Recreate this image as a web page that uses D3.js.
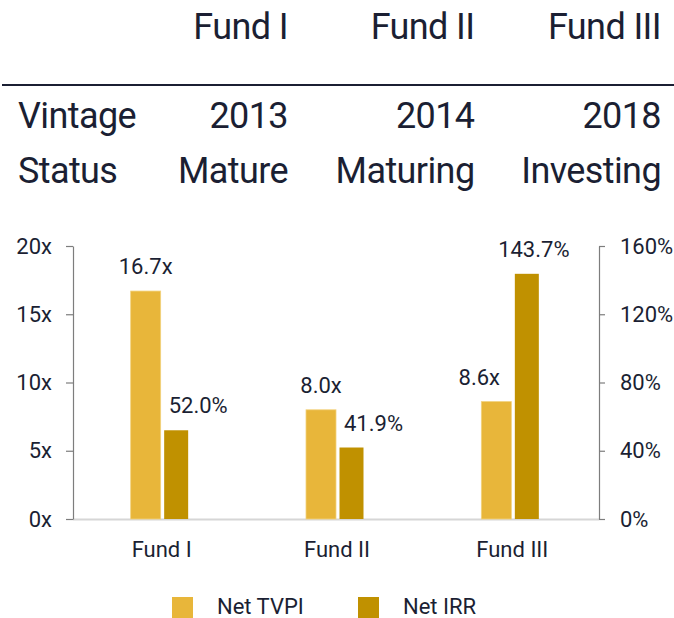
<!DOCTYPE html>
<html>
<head>
<meta charset="utf-8">
<script src="https://cdn.jsdelivr.net/npm/d3@7"></script>
<style>
  html, body { margin: 0; padding: 0; background: #fff; }
  svg { display: block; }
  text { font-family: Roboto, "Liberation Sans", Arial, sans-serif; fill: #1b1f33; }
</style>
</head>
<body>
<svg id="chart" width="674" height="618"></svg>
<script>
// ---- data ----
const funds = ["Fund I", "Fund II", "Fund III"];
const vintages = ["2013", "2014", "2018"];
const statuses = ["Mature", "Maturing", "Investing"];
const rowLabels = ["Vintage", "Status"];
const netTVPI = [16.7, 8.0, 8.6];
const netIRR = [52.0, 41.9, 143.7];
const leftTicks = [0, 5, 10, 15, 20];
const rightTicks = [0, 40, 80, 120, 160];
const seriesNames = ["Net TVPI", "Net IRR"];
const colors = ["#E8B63A", "#C09100"];

const svg = d3.select("#chart");
const ink = "#1b1f33";

// ---- header table ----
const colRight = d3.scalePoint().domain(funds).range([288, 661]);
const header = svg.append("g").style("letter-spacing", "-0.6px");
header.selectAll("text.fund").data(funds).join("text")
  .attr("x", d => colRight(d)).attr("y", 39)
  .attr("text-anchor", "end").style("font-size", "36px").text(d => d);
header.append("line").attr("x1", 2).attr("x2", 674).attr("y1", 85).attr("y2", 85)
  .attr("stroke", ink).attr("stroke-width", 2);
const rows = [vintages, statuses];
const rowY = [128, 183];
rows.forEach((vals, i) => {
  header.append("text").attr("x", 18).attr("y", rowY[i]).style("font-size", "36px").text(rowLabels[i]);
  header.selectAll(null).data(vals).join("text")
    .attr("x", (d, j) => colRight(funds[j])).attr("y", rowY[i])
    .attr("text-anchor", "end").style("font-size", "36px").text(d => d);
});

// ---- chart ----
const x0 = 73, x1 = 599, yTop = 246, yBot = 519;
const x = d3.scaleBand().domain(funds).range([x0, x1]).padding(0);
const yL = d3.scaleLinear().domain([0, 20]).range([yBot, yTop]);
const yR = d3.scaleLinear().domain([0, 160]).range([yBot, yTop]);

// baseline
svg.append("line").attr("x1", x0).attr("x2", x1).attr("y1", yBot + 0.5).attr("y2", yBot + 0.5)
  .attr("stroke", "#d6d6d6").attr("stroke-width", 2);

const axL = svg.append("g").attr("transform", `translate(${x0},0)`)
  .call(d3.axisLeft(yL).tickValues(leftTicks).tickFormat(d => d + "x").tickSize(7).tickSizeOuter(0).tickPadding(14));
const axR = svg.append("g").attr("transform", `translate(${x1},0)`)
  .call(d3.axisRight(yR).tickValues(rightTicks).tickFormat(d => d + "%").tickSize(6).tickSizeOuter(0).tickPadding(15));
[axL, axR].forEach(a => {
  a.select(".domain").attr("stroke", "#7d7d7d").attr("stroke-width", 1.2);
  a.selectAll(".tick line").attr("stroke", "#7d7d7d").attr("stroke-width", 1.2);
  a.selectAll(".tick text").style("font-size", "22px").attr("fill", ink)
    .style("font-family", "Roboto, 'Liberation Sans', Arial, sans-serif");
});

const tvpiW = 30, irrW = 24, gap = 3.5;
const cx = d => x(d) + x.bandwidth() / 2;
const last = funds[funds.length - 1];

// TVPI bars
svg.selectAll("rect.tvpi").data(funds).join("rect")
  .attr("x", d => cx(d) - tvpiW).attr("width", tvpiW)
  .attr("y", (d, i) => yL(netTVPI[i])).attr("height", (d, i) => yBot - yL(netTVPI[i]))
  .attr("fill", colors[0]).attr("stroke", "#F2D27E").attr("stroke-width", 0.8);
// IRR bars
svg.selectAll("rect.irr").data(funds).join("rect")
  .attr("x", d => cx(d) + gap).attr("width", irrW)
  .attr("y", (d, i) => yR(netIRR[i])).attr("height", (d, i) => yBot - yR(netIRR[i]))
  .attr("fill", colors[1]);

// value labels
svg.selectAll("text.lt").data(funds).join("text")
  .attr("x", d => cx(d) - tvpiW / 2 + (d === last ? -17 : 0))
  .attr("y", (d, i) => yL(netTVPI[i]) - 17)
  .attr("text-anchor", "middle").style("font-size", "22px")
  .text((d, i) => netTVPI[i].toFixed(1) + "x");
svg.selectAll("text.li").data(funds).join("text")
  .attr("x", d => cx(d) + gap + irrW / 2 + (d === last ? 7 : 22))
  .attr("y", (d, i) => yR(netIRR[i]) - 17)
  .attr("text-anchor", "middle").style("font-size", "22px")
  .text((d, i) => netIRR[i].toFixed(1) + "%");

// category labels
svg.selectAll("text.cat").data(funds).join("text")
  .attr("x", d => cx(d) + 1).attr("y", 557)
  .attr("text-anchor", "middle").style("font-size", "22px").text(d => d);

// legend
const legX = [172, 358];
seriesNames.forEach((s, i) => {
  svg.append("rect").attr("x", legX[i]).attr("y", 597).attr("width", 21).attr("height", 21).attr("fill", colors[i]);
  svg.append("text").attr("x", legX[i] + 45).attr("y", 614).style("font-size", "22px").text(s);
});
</script>
</body>
</html>
